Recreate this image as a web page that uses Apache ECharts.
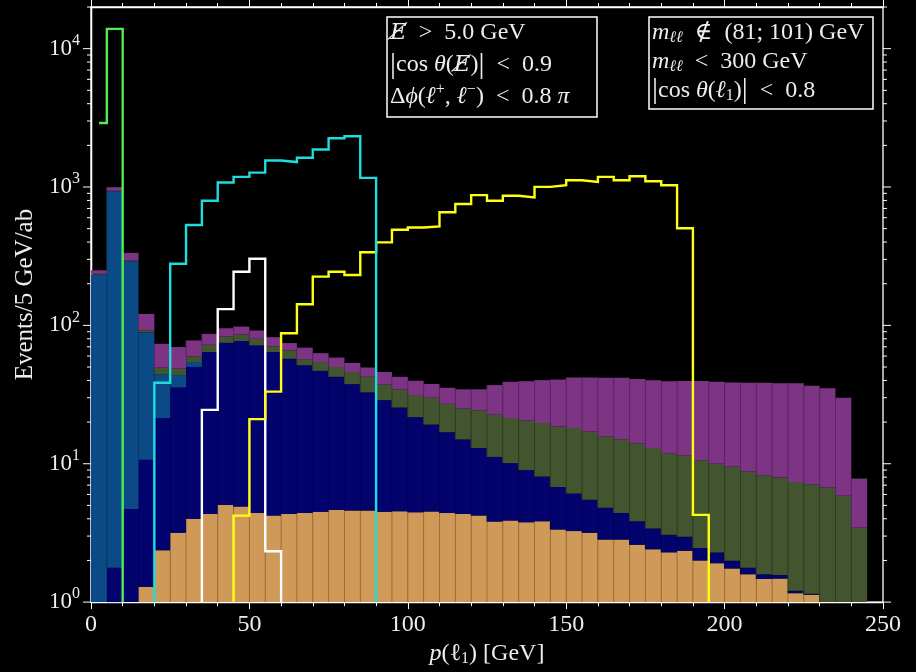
<!DOCTYPE html>
<html><head><meta charset="utf-8">
<script src="https://cdn.jsdelivr.net/npm/echarts@6/dist/echarts.min.js"></script>
<style>html,body{margin:0;padding:0;background:#000}#c{width:916px;height:672px}</style>
</head><body><div id="c"></div>
<script>
// ---- data: stacked histogram, 5 GeV bins from 0 to 245; values are the cumulative top of each stack layer
const BIN = 5;
const tanTop = [0,0,0,1.29,2.37,3.17,4.0,4.34,5.03,4.9, 4.4,4.22,4.34,4.4,4.5,4.64,4.6,4.6,4.5,4.53,
  4.46,4.51,4.4,4.34,4.22,3.82,3.89,3.78,3.84,3.35, 3.26,3.17,2.83,2.83,2.6,2.41,2.29,2.35,2.0,1.91,
  1.75,1.59,1.47,1.48,1.16,1.13,0,0,0];
const navyTop = [0,1.77,4.7,10.7,21.4,35.6,50.1,64.2,74.8,77, 71.7,64.2,57.4,51.5,46.9,42.5,37.6,32.8,28.8,25.5,
  21.7,19.2,16.9,15.0,13.0,11.2,10.1,9.0,8.1,6.8, 6.1,5.5,4.8,4.4,3.84,3.4,3.07,2.97,2.46,2.28,
  1.99,1.77,1.59,1.57,1.21,1.15,0,0,0];
const steelTop = [233,933,291,89,44.4,43.7,54.4,0,0,0, 0,0,0,0,0,0,0,0,0,0,
  0,0,0,0,0,0,0,0,0,0, 0,0,0,0,0,0,0,0,0,0, 0,0,0,0,0,0,0,0,0];
const greenTop = [236,940,295,92,49.5,48.7,59.8,72.4,83.1,86, 80,70.5,66,57,54.4,50,46,42.5,37.5,34.5,
  31.4,30.0,27.1,25.2,24.3,22.6,21.4,20.5,19.7,18.6, 18.1,17.1,15.8,15.0,14.0,13.0,11.9,11.5,10.6,10.0,
  9.5,8.77,8.26,7.94,7.39,7.12,6.74,5.87,3.45];
const purpleTop = [250,997,334,121,73.6,69.7,77.8,86.8,95.3,98, 91.8,82.2,74.5,69,63,58.5,53.5,49.6,46,42.5,
  39.8,37.7,35.4,34.5,34.5,37.0,39.1,39.5,40.2,40.6, 42.0,42.0,41.8,41.8,40.9,40.2,39.5,39.6,39.6,39.1,
  38.7,38.5,38.5,38.1,38.1,36.6,35.1,30.0,7.81];

// step-line histograms (bin edges and values)
const greenLineEdges = [2.5, 5, 10];
const greenLineVals = [2900, 13900];
const cyanStart = 20;
const cyanVals = [38.5,279,532,796,1077,1183,1270,1556,1515,1627,1867,2250,2328,1164];
const whiteStart = 35;
const whiteVals = [24.5,131,244,303,2.33];
const yellowStart = 45;
const yellowVals = [4.22,21,33.2,87.8,142,225,244,231,338,398,491,510,519,657,753,874,796,865,841,1003,
  1030,1119,1090,1183,1119,1195,1101,1030,504,4.27];

const xTicks = [0, 50, 100, 150, 200, 250];
const yMajor = [1, 10, 100, 1000, 10000];
const Y_MIN = 1, Y_MAX = 20000;

// ---- build
const FONT = "'Liberation Serif','DejaVu Serif',serif";
const TXT = '#ededed';
const layers = [
  {top: tanTop, color: '#cf9a57', seam: '#9c7040'},
  {top: navyTop, color: '#03036e', seam: '#020250'},
  {top: steelTop, color: '#0b4a86', seam: '#083864'},
  {top: greenTop, color: '#42552f', seam: '#2f3d22'},
  {top: purpleTop, color: '#7d3484', seam: '#5c2662'}
];
const series = [];
const prev = purpleTop.map(() => Y_MIN);
layers.forEach((l, li) => {
  const data = [];
  for (let i = 0; i < l.top.length; i++) {
    const t = l.top[i];
    if (t > prev[i]) { data.push([i * BIN, i * BIN + BIN, prev[i], t]); prev[i] = t; }
  }
  series.push({
    type: 'custom', silent: true, z: 2, data: data, encode: {x: [0, 1], y: [2, 3]},
    renderItem: function (params, api) {
      const p0 = api.coord([api.value(0), api.value(3)]);
      const p1 = api.coord([api.value(1), api.value(2)]);
      const ch = [{type: 'rect', shape: {x: p0[0], y: p0[1], width: p1[0] - p0[0], height: p1[1] - p0[1]},
        style: {fill: l.color}}];
      if (api.value(0) > 0) ch.push({type: 'line', shape: {x1: p0[0], y1: p0[1], x2: p0[0], y2: p1[1]},
        style: {stroke: l.seam, lineWidth: 1}});
      return {type: 'group', children: ch};
    }
  });
});

function stepPoints(edges, vals, dropStart) {
  const pts = [];
  if (dropStart) pts.push([edges[0], Y_MIN]);
  for (let i = 0; i < vals.length; i++) { pts.push([edges[i], vals[i]]); pts.push([edges[i + 1], vals[i]]); }
  pts.push([edges[edges.length - 1], Y_MIN]);
  return pts;
}
function edgesFrom(start, n) { const e = []; for (let i = 0; i <= n; i++) e.push(start + i * BIN); return e; }
function lineSeries(pts, color, z) {
  return {type: 'line', data: pts, symbol: 'none', showSymbol: false, clip: true, silent: true, z: z,
    lineStyle: {color: color, width: 2.4, join: 'miter'}, animation: false};
}
series.push(lineSeries(stepPoints(edgesFrom(whiteStart, whiteVals.length), whiteVals, true), '#ffffff', 3));
series.push(lineSeries(stepPoints(edgesFrom(yellowStart, yellowVals.length), yellowVals, true), '#ffff14', 4));
series.push(lineSeries(stepPoints(edgesFrom(cyanStart, cyanVals.length), cyanVals, true), '#20dcdc', 5));
series.push(lineSeries(stepPoints(greenLineEdges, greenLineVals, false), '#50ec50', 5));

// log-axis ticks (major and minor) on left and right spines
const yMinor = [];
for (let d = 1; d < Y_MAX; d *= 10) for (let m = 2; m <= 9; m++) if (m * d <= Y_MAX) yMinor.push(m * d);
function tickSeries(vals, len) {
  return {type: 'custom', silent: true, z: 6, data: vals.map(v => [0, v]), encode: {x: 0, y: 1},
    renderItem: function (params, api) {
      const cs = params.coordSys;
      const y = api.coord([0, api.value(1)])[1];
      const st = {stroke: '#ffffff', lineWidth: 1};
      return {type: 'group', children: [
        {type: 'line', shape: {x1: cs.x - len, y1: y, x2: cs.x, y2: y}, style: st},
        {type: 'line', shape: {x1: cs.x + cs.width, y1: y, x2: cs.x + cs.width + len, y2: y}, style: st}
      ]};
    }};
}
series.push(tickSeries(yMajor, 8));
series.push(tickSeries(yMinor, 4));

const axLine = {show: true, lineStyle: {color: '#ffffff', width: 1.3}};
const xCommon = {
  type: 'value', min: xTicks[0], max: xTicks[xTicks.length - 1], interval: xTicks[1] - xTicks[0],
  axisLine: axLine, splitLine: {show: false},
  axisTick: {show: true, inside: false, length: 7, lineStyle: {color: '#ffffff', width: 1}},
  minorTick: {show: true, splitNumber: 5, length: 4, lineStyle: {color: '#ffffff', width: 1}}
};
const FS = 24;
const richBox = {
  i: {fontStyle: 'italic', fontSize: FS, fontFamily: FONT, color: TXT},
  slE: {fontStyle: 'italic', fontSize: FS - 1, fontFamily: "'DejaVu Serif'", color: TXT},
  sub: {fontSize: 16, fontFamily: FONT, color: TXT, padding: [10, 0, 0, 0]},
  isub: {fontSize: 16, fontStyle: 'italic', fontFamily: FONT, color: TXT, padding: [10, 0, 0, 0]},
  sup: {fontSize: 16, fontFamily: FONT, color: TXT, padding: [0, 0, 15, 0]},
  bar: {fontSize: 30, fontFamily: FONT, color: TXT}
};

const option = {
  backgroundColor: '#000000',
  animation: false,
  grid: {left: 91, right: 33, top: 7, bottom: 65, show: true, borderColor: '#ffffff', borderWidth: 1.3, backgroundColor: 'transparent'},
  xAxis: [
    Object.assign({}, xCommon, {position: 'bottom',
      axisLabel: {color: TXT, fontFamily: FONT, fontSize: 24, margin: 11},
      name: '{i|p}(\u2113{sub|1}) [GeV]', nameLocation: 'middle', nameGap: 36,
      nameTextStyle: {color: TXT, fontFamily: FONT, fontSize: 24, rich: richBox}}),
    Object.assign({}, xCommon, {position: 'top', axisLabel: {show: false}})
  ],
  yAxis: [
    {type: 'log', logBase: 10, min: Y_MIN, max: Y_MAX, position: 'left', axisLine: axLine,
      axisTick: {show: false}, minorTick: {show: false}, splitLine: {show: false},
      axisLabel: {margin: 11, color: TXT, fontFamily: FONT,
        formatter: function (v) {
          const l = Math.log10(v), e = Math.round(l);
          if (Math.abs(l - e) > 1e-6) return '';
          return '{b|10}{s|' + e + '}';
        },
        rich: {b: {fontSize: 23, fontFamily: FONT, color: TXT}, s: {fontSize: 16, fontFamily: FONT, color: TXT, padding: [0, 0, 16, 0]}}},
      name: 'Events/5 GeV/ab', nameLocation: 'middle', nameGap: 52, nameRotate: 90,
      nameTextStyle: {color: TXT, fontFamily: FONT, fontSize: 25, padding: [0, 0, 0, 20]}},
    {type: 'log', logBase: 10, min: Y_MIN, max: Y_MAX, position: 'right', axisLine: axLine,
      axisTick: {show: false}, axisLabel: {show: false}, splitLine: {show: false}}
  ],
  graphic: [
    {type: 'rect', z: 20, shape: {x: 387, y: 17, width: 210, height: 100},
      style: {fill: '#000000', stroke: '#ffffff', lineWidth: 1.5}},
    {type: 'text', z: 21, style: {x: 390, y: 17, fill: TXT, fontSize: FS, fontFamily: FONT, lineHeight: 32,
      verticalAlign: 'top', rich: richBox,
      text: '{slE|E\u0338}  >  5.0 GeV\n{bar||}cos {i|\u03B8}({slE|E\u0338}){bar||}  <  0.9\n\u0394{i|\u03D5}({i|\u2113}{sup|+}, {i|\u2113}{sup|\u2212})  <  0.8 {i|\u03C0}'}},
    {type: 'rect', z: 20, shape: {x: 649, y: 17, width: 224, height: 92},
      style: {fill: '#000000', stroke: '#ffffff', lineWidth: 1.5}},
    {type: 'text', z: 21, style: {x: 652, y: 18, fill: TXT, fontSize: FS, fontFamily: FONT, lineHeight: 29,
      verticalAlign: 'top', rich: richBox,
      text: '{i|m}{isub|\u2113\u2113}  \u2209  (81; 101) GeV\n{i|m}{isub|\u2113\u2113}  <  300 GeV\n{bar||}cos {i|\u03B8}({i|\u2113}{sub|1}){bar||}  <  0.8'}}
  ],
  series: series
};
const chart = echarts.init(document.getElementById('c'), null, {renderer: 'canvas'});
chart.setOption(option);
</script></body></html>
